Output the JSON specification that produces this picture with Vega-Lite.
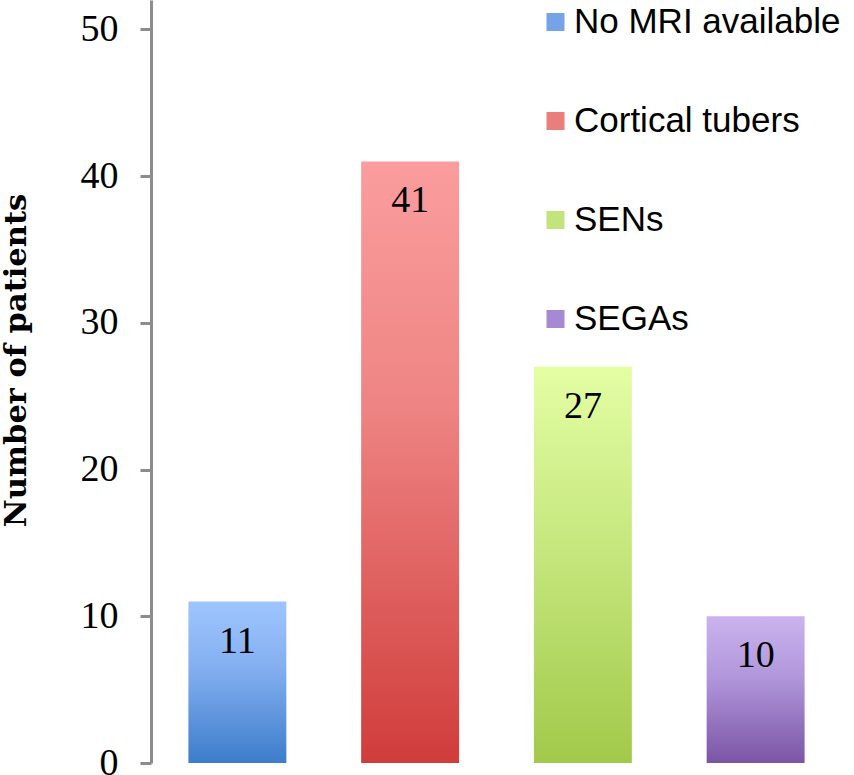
{
  "$schema": "https://vega.github.io/schema/vega-lite/v6.json",
  "autosize": "none",
  "width": 691,
  "height": 763,
  "padding": {"left": 151, "top": 0, "right": 12, "bottom": 12},
  "background": "white",
  "config": {"view": {"stroke": null}},
  "data": {"values": [
    {"category": "No MRI available", "patients": 11},
    {"category": "Cortical tubers", "patients": 41},
    {"category": "SENs", "patients": 27},
    {"category": "SEGAs", "patients": 10}
  ]},
  "encoding": {
    "x": {"field": "category", "type": "nominal", "sort": null, "axis": null,
          "scale": {"paddingInner": 0.433, "paddingOuter": 0.2165}},
    "y": {"field": "patients", "type": "quantitative",
          "scale": {"domain": [0, 52], "nice": false},
          "axis": {
            "title": "Number of patients",
            "values": [0, 10, 20, 30, 40, 50],
            "grid": false,
            "domainColor": "#8c8c8c", "domainWidth": 3,
            "tickColor": "#8c8c8c", "tickWidth": 3, "tickSize": 11,
            "labelFont": "Liberation Serif", "labelFontSize": 38, "labelColor": "black",
            "labelPadding": 22, "labelBaseline": "middle",
            "titleFont": "DejaVu Serif", "titleFontSize": 30.5, "titleFontWeight": "bold", "titleColor": "black",
            "titleAngle": -90, "titleX": -135, "titleY": 360, "titleAlign": "center", "titleBaseline": "middle"
          }}
  },
  "layer": [
    {
      "mark": {"type": "bar", "opacity": 0},
      "encoding": {
        "color": {"field": "category", "type": "nominal", "sort": null,
          "scale": {"domain": ["No MRI available", "Cortical tubers", "SENs", "SEGAs"],
            "range": ["#74a3e8", "#e97e7d", "#c2e47c", "#a589d3"]},
          "legend": {
            "title": null, "orient": "none", "legendX": 387, "legendY": 4.5,
            "padding": 0,
            "symbolType": "square", "symbolSize": 324, "symbolStrokeWidth": 0, "symbolOpacity": 1,
            "labelFont": "Liberation Sans", "labelFontSize": 35, "labelColor": "black",
            "labelOffset": 1, "rowPadding": 63, "labelLimit": 400,
            "encode": {"symbols": {"update": {"opacity": {"value": 1}, "fillOpacity": {"value": 1}}}}
          }}
      }
    },
    {
      "mark": {"type": "bar"},
      "encoding": {
        "fill": {
          "condition": [
            {"test": "datum.category === 'No MRI available'", "value": {"gradient": "linear", "x1": 0, "y1": 0, "x2": 0, "y2": 1, "stops": [{"offset": 0, "color": "#9fc5fd"}, {"offset": 0.4, "color": "#84b0f1"}, {"offset": 1, "color": "#3d7dcb"}]}},
            {"test": "datum.category === 'Cortical tubers'", "value": {"gradient": "linear", "x1": 0, "y1": 0, "x2": 0, "y2": 1, "stops": [{"offset": 0, "color": "#fb9d9d"}, {"offset": 0.4, "color": "#ee8584"}, {"offset": 1, "color": "#d03d3b"}]}},
            {"test": "datum.category === 'SENs'", "value": {"gradient": "linear", "x1": 0, "y1": 0, "x2": 0, "y2": 1, "stops": [{"offset": 0, "color": "#e4fea4"}, {"offset": 0.4, "color": "#c9ea83"}, {"offset": 1, "color": "#a2c94a"}]}}
          ],
          "value": {"gradient": "linear", "x1": 0, "y1": 0, "x2": 0, "y2": 1, "stops": [{"offset": 0, "color": "#cab3ee"}, {"offset": 0.4, "color": "#b298dc"}, {"offset": 1, "color": "#7b55a5"}]}
        }
      }
    },
    {
      "mark": {"type": "text", "font": "Liberation Serif", "fontSize": 38, "color": "black", "baseline": "alphabetic", "dy": 51},
      "encoding": {"text": {"field": "patients", "type": "quantitative"}}
    }
  ]
}
